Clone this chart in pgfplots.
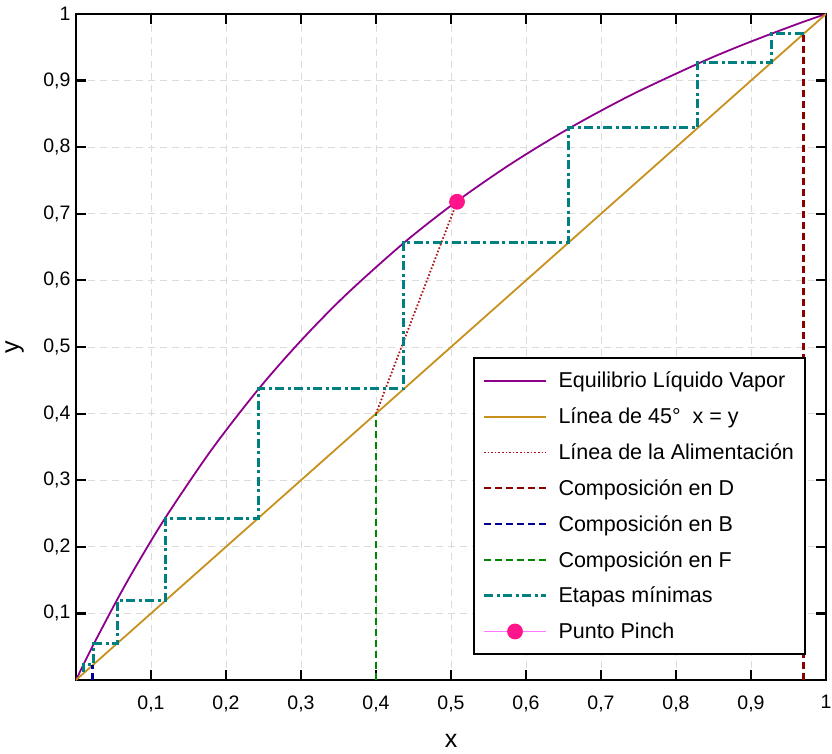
\documentclass[border=0pt]{standalone}
\usepackage{fontspec}
\setmainfont{Liberation Sans}
\usepackage{pgfplots}
\pgfplotsset{compat=1.18}
\definecolor{eqc}{RGB}{140,0,140}
\definecolor{diag}{RGB}{200,145,30}
\definecolor{feed}{RGB}{170,20,20}
\definecolor{dcol}{RGB}{140,0,0}
\definecolor{bcol}{RGB}{0,0,150}
\definecolor{fcol}{RGB}{0,135,0}
\definecolor{stair}{RGB}{0,128,128}
\definecolor{pinch}{RGB}{255,20,140}
\definecolor{pinchl}{RGB}{255,120,255}
\begin{document}
\begin{tikzpicture}
\begin{axis}[
  name=ax,
  width=750pt, height=666pt, scale only axis,
  xmin=0, xmax=1, ymin=0, ymax=1,
  xtick={0.1,0.2,0.3,0.4,0.5,0.6,0.7,0.8,0.9,1},
  ytick={0.1,0.2,0.3,0.4,0.5,0.6,0.7,0.8,0.9,1},
  grid=major,
  major grid style={black!14, line width=1pt, dash pattern=on 7pt off 5pt},
  tick style={black, line width=2.2pt},
  major tick length=10pt,
  axis line style={line width=2.4pt},
  ticklabel style={font=\fontsize{19.5}{23}\selectfont},
  xticklabel style={anchor=north, yshift=-12pt},
  yticklabel style={anchor=east, xshift=-2pt},
  /pgf/number format/use comma,
  /pgf/number format/assume math mode=true,
  xlabel={x}, ylabel={y},
  label style={font=\fontsize{25}{30}\selectfont},
  xlabel style={at={(axis description cs:0.5,-0.0916)}, anchor=center},
  ylabel style={at={(axis description cs:-0.082,0.5)}, anchor=center},
  legend cell align=left,
  legend image code/.code={\draw[mark repeat=2,mark phase=2,#1] plot coordinates {(0pt,0pt) (31pt,0pt) (62pt,0pt)};},
  legend style={at={(0.9733,0.0375)}, anchor=south east, draw=black, line width=2pt,
    font=\fontsize{21.5}{25}\selectfont, row sep=14.5pt, column sep=9pt, inner xsep=9pt, inner ysep=12pt},
]
% Equilibrio
\addplot[eqc, line width=1.8pt, smooth, tension=0.5] coordinates {
 (0,0) (0.003,0.0070) (0.0107,0.0249) (0.024,0.0548) (0.0547,0.1203) (0.08,0.1709)
 (0.1187,0.2428) (0.18,0.3446) (0.2427,0.4359) (0.3,0.5096) (0.36,0.5785) (0.437,0.6562)
 (0.507,0.7181) (0.58,0.7750) (0.657,0.8280) (0.74,0.8783) (0.829,0.9253) (0.88,0.9497)
 (0.927,0.9703) (0.97,0.9883) (1,1)};
\addlegendentry{Equilibrio Líquido Vapor}
% 45 deg
\addplot[diag, line width=1.8pt] coordinates {(0,0) (1,1)};
\addlegendentry{Línea de 45°\ \ x = y}
% Alimentacion
\addplot[feed, line width=1.8pt, dash pattern=on 1.6pt off 2pt] coordinates {(0.4,0.4) (0.508,0.718)};
\addlegendentry{Línea de la Alimentación}
% D
\addplot[dcol, line width=2.4pt, dash pattern=on 7pt off 4pt] coordinates {(0.97,0) (0.97,0.97)};
\addlegendentry{Composición en D}
% B
\addplot[bcol, line width=2.4pt, dash pattern=on 7pt off 4pt] coordinates {(0.022,0) (0.022,0.022)};
\addlegendentry{Composición en B}
% F
\addplot[fcol, line width=2.4pt, dash pattern=on 7pt off 4pt] coordinates {(0.4,0) (0.4,0.4)};
\addlegendentry{Composición en F}
% Etapas
\addplot[stair, line width=3pt, dash pattern=on 9pt off 3.5pt on 3pt off 3.5pt] coordinates {
 (0.97,0.97) (0.927,0.97) (0.927,0.927) (0.829,0.927) (0.829,0.829) (0.657,0.829)
 (0.657,0.657) (0.437,0.657) (0.437,0.437) (0.2427,0.437) (0.2427,0.2427) (0.1187,0.2427)
 (0.1187,0.1187) (0.0547,0.1187) (0.0547,0.0547) (0.024,0.0547) (0.024,0.024) (0.0105,0.024)
 (0.0105,0.0105)};
\addlegendentry{Etapas mínimas}
% Pinch
\addplot[pinchl, line width=1.8pt, mark=*, mark size=7pt, mark options={fill=pinch, draw=pinch}] coordinates {(0.508,0.718)};
\addlegendentry{Punto Pinch}
\end{axis}
\pgfresetboundingbox
\path[use as bounding box] ([xshift=-76pt,yshift=-73pt]ax.south west) rectangle ([xshift=6pt,yshift=14pt]ax.north east);
\end{tikzpicture}
\end{document}
